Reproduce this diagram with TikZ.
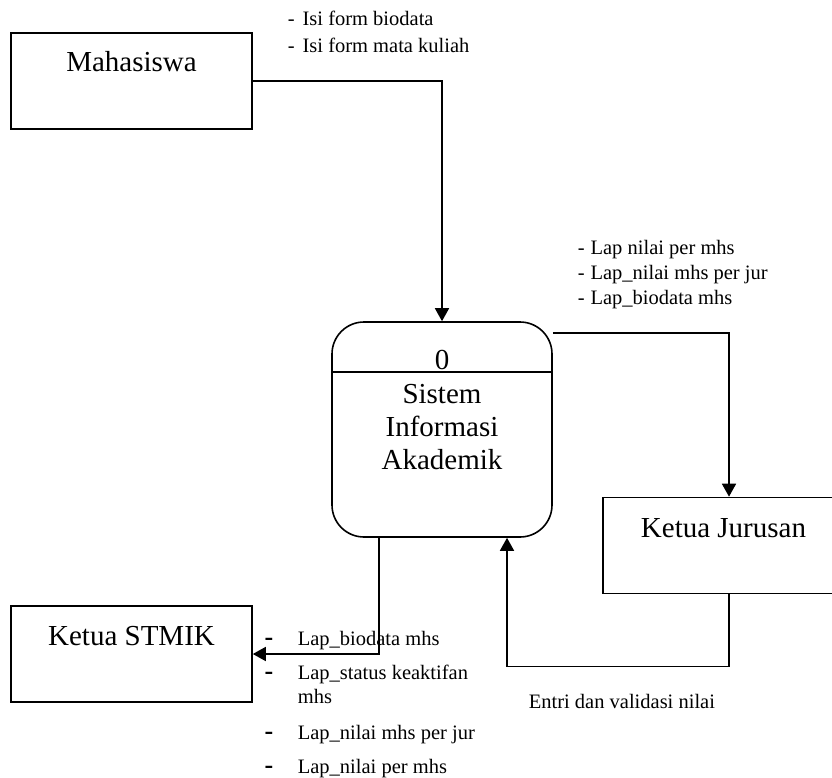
\documentclass[tikz,border=0pt]{standalone}
\usepackage{fontspec}
\setmainfont{Liberation Serif}
\usetikzlibrary{arrows.meta,calc}
\begin{document}
\begin{tikzpicture}[x=1pt,y=-1pt,
  line width=1.6pt,
  entity/.style={draw,minimum width=241pt,minimum height=96pt,inner sep=0pt,line width=1.6pt},
  procbox/.style={draw,rounded corners=32pt,minimum width=220pt,minimum height=215pt,inner sep=0pt,line width=1.6pt},
  big/.style={font=\fontsize{29}{34}\selectfont,anchor=base,inner sep=0pt},
  small/.style={font=\fontsize{20.5}{25}\selectfont,anchor=base west,inner sep=0pt},
  bullet/.style={font=\fontsize{26}{30}\selectfont\bfseries,anchor=base,inner sep=0pt},
  flow/.style={draw,-{Triangle[length=13pt,width=14pt]},line width=1.6pt},
]
\clip (0,0) rectangle (832,778);
\fill[white] (0,0) rectangle (832,778);

% entities
\node[entity] (mhs) at (131.5,81) {};
\node[big] (mhstxt) at (131.5,72) {Mahasiswa};
\node[entity] (stmik) at (131.5,654) {};
\node[big] (stmiktxt) at (131.5,645) {Ketua STMIK};
\node[entity] (kj) at (723.5,545.5) {};
\node[big] (kjtxt) at (723.5,537) {Ketua Jurusan};

% process
\node[procbox] (proc) at (442,429.5) {};
\draw ($(proc.north west)+(0,51)$) -- ($(proc.north east)+(0,51)$);
\node[big] (pnum) at (442,369) {0};
\node[big] (p1) at (442,403) {Sistem};
\node[big] (p2) at (442,436) {Informasi};
\node[big] (p3) at (442,469) {Akademik};

% connector points
\coordinate (kjtop) at ($(kj.north)+(5.5,0)$);
\coordinate (kjbot) at ($(kj.south)+(5.5,0)$);
\coordinate (procR) at ($(proc.north east)+(0,12)$);
\coordinate (procBL) at ($(proc.south)+(-63,0)$);
\coordinate (procBR) at ($(proc.south)+(65,0)$);

% connectors
\draw[flow] (mhs.east) -| (proc.north);
\draw[flow] (procR) -| (kjtop);
\draw[flow] (procBL) |- (stmik.east);
\draw[flow] (kjbot) -- ++(0,72) -| (procBR);

% labels
\node[small] (l1) at (287,26) {-\hspace{8pt}Isi form biodata};
\node[small] (l2) at (287,53) {-\hspace{8pt}Isi form mata kuliah};

\node[small] (r1) at (577,254) {-\hspace{6pt}Lap nilai per mhs};
\node[small] (r2) at (577,279) {-\hspace{6pt}Lap\_nilai mhs per jur};
\node[small] (r3) at (577,304) {-\hspace{6pt}Lap\_biodata mhs};

\node[bullet] (b1) at (269,645) {-};
\node[bullet] (b2) at (269,679) {-};
\node[bullet] (b3) at (269,739) {-};
\node[bullet] (b4) at (269,773) {-};
\node[small] (s1) at (297,645) {Lap\_biodata mhs};
\node[small] (s2) at (297,679) {Lap\_status keaktifan};
\node[small] (s3) at (297,703) {mhs};
\node[small] (s4) at (297,739) {Lap\_nilai mhs per jur};
\node[small] (s5) at (297,773) {Lap\_nilai per mhs};

\node[small] (entri) at (528,708) {Entri dan validasi nilai};
\end{tikzpicture}
\end{document}
